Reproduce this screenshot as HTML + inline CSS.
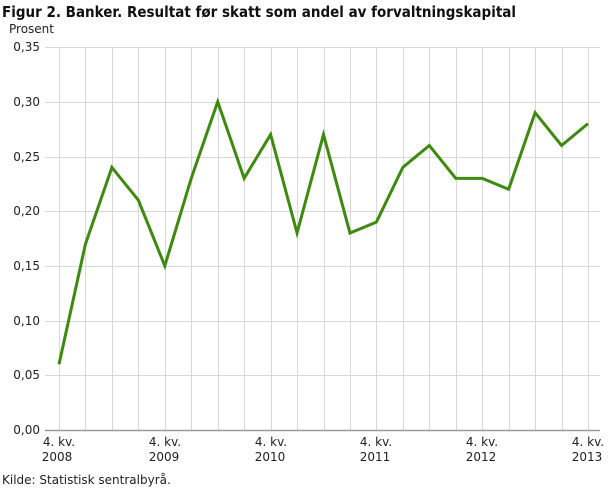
<!DOCTYPE html>
<html><head><meta charset="utf-8"><style>
body{margin:0;background:#fff;width:610px;height:488px;overflow:hidden;font-family:"DejaVu Sans","Liberation Sans",sans-serif}
</style></head><body>
<svg width="610" height="488" xmlns="http://www.w3.org/2000/svg" font-family="DejaVu Sans, Liberation Sans, sans-serif">
<text x="2" y="17" font-size="15" font-weight="bold" fill="#111" textLength="514" lengthAdjust="spacingAndGlyphs">Figur 2. Banker. Resultat før skatt som andel av forvaltningskapital</text>
<text x="9" y="33" font-size="12" fill="#222">Prosent</text>
<g stroke="#d8d8d8" stroke-width="1">
<line x1="45" y1="47.5" x2="600" y2="47.5"/><line x1="45" y1="102.5" x2="600" y2="102.5"/><line x1="45" y1="157.5" x2="600" y2="157.5"/><line x1="45" y1="211.5" x2="600" y2="211.5"/><line x1="45" y1="266.5" x2="600" y2="266.5"/><line x1="45" y1="321.5" x2="600" y2="321.5"/><line x1="45" y1="375.5" x2="600" y2="375.5"/>
</g>
<g id="v" stroke="#d8d8d8" stroke-width="1"></g>
<line x1="45" y1="430.5" x2="600" y2="430.5" stroke="#999" stroke-width="1.5"/>
<g font-size="12" fill="#222" text-anchor="end">
<text x="40" y="51">0,35</text><text x="40" y="106">0,30</text><text x="40" y="161">0,25</text><text x="40" y="215">0,20</text><text x="40" y="270">0,15</text><text x="40" y="325">0,10</text><text x="40" y="379">0,05</text><text x="40" y="434">0,00</text>
</g>
<g font-size="12" fill="#222" text-anchor="middle">
<text x="59" y="446">4. kv.</text><text x="57" y="461">2008</text>
<text x="165" y="446">4. kv.</text><text x="164" y="461">2009</text>
<text x="271" y="446">4. kv.</text><text x="270" y="461">2010</text>
<text x="376" y="446">4. kv.</text><text x="375" y="461">2011</text>
<text x="482" y="446">4. kv.</text><text x="481" y="461">2012</text>
<text x="588" y="446">4. kv.</text><text x="587" y="461">2013</text>
</g>
<text x="2" y="484" font-size="12" fill="#222">Kilde: Statistisk sentralbyrå.</text>
<polyline id="p" fill="none" stroke="#3d8a0e" stroke-width="3" stroke-linejoin="miter"/>
</svg>
<script>
var d=[0.06,0.17,0.24,0.21,0.15,0.23,0.30,0.23,0.27,0.18,0.27,0.18,0.19,0.24,0.26,0.23,0.23,0.22,0.29,0.26,0.28];
var pts=[],v=document.getElementById('v'),ns="http://www.w3.org/2000/svg";
for(var i=0;i<d.length;i++){var x=59+i*26.45;pts.push(x+","+(430-d[i]/0.35*383));
var l=document.createElementNS(ns,'line');var xx=Math.round(x)+0.5;l.setAttribute('x1',xx);l.setAttribute('x2',xx);l.setAttribute('y1',47);l.setAttribute('y2',430);v.appendChild(l);}
document.getElementById('p').setAttribute('points',pts.join(' '));
</script>
</body></html>
